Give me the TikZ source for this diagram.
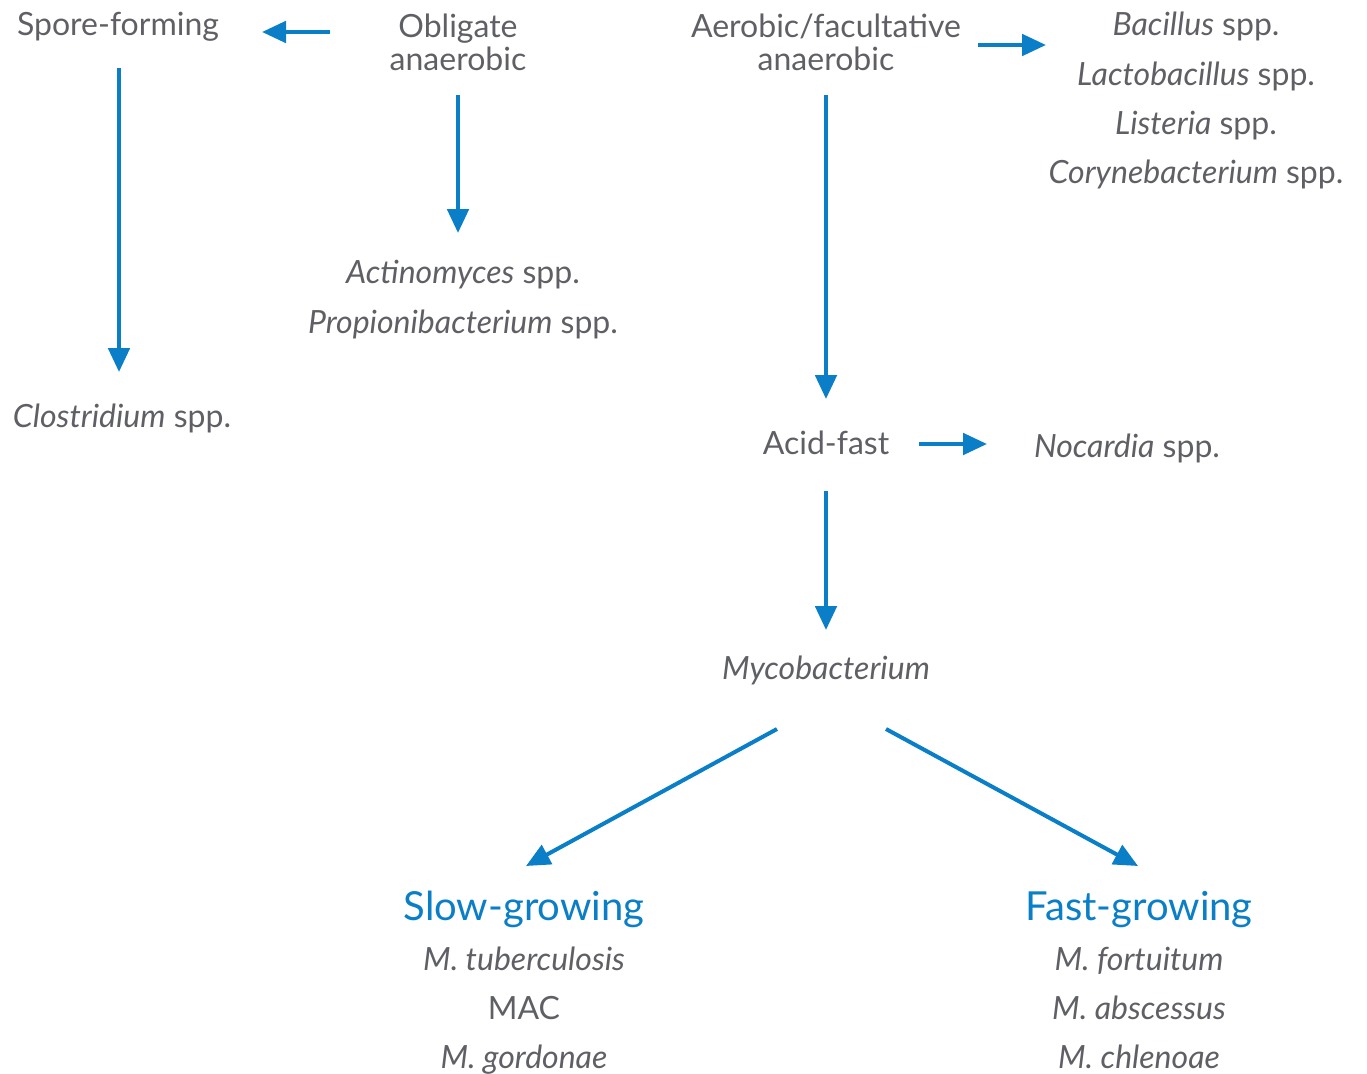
\documentclass[tikz,border=0pt]{standalone}
\usepackage{fontspec}
\setmainfont{Lato}
\usetikzlibrary{arrows.meta,calc}
\definecolor{txtgray}{HTML}{5F6065}
\definecolor{arrblue}{HTML}{0A7FC7}
\begin{document}
\begin{tikzpicture}[x=0.75pt,y=-0.75pt,
  lbl/.style={inner sep=0pt,anchor=base,text=txtgray,font=\fontsize{24}{24.75}\selectfont,align=center},
  two/.style={inner sep=0pt,text=txtgray,font=\fontsize{24}{24.75}\selectfont,align=center},
  head/.style={inner sep=0pt,anchor=base,text=arrblue,font=\fontsize{30}{30}\selectfont},
  conn/.style={draw=arrblue,line width=3pt,-{Triangle[length=18pt,width=16pt]}}]
\useasboundingbox (0,0) rectangle (1367,1074);
\node[lbl] (sf) at (118,36) {Spore-forming};
\node[two] (ob) at (458,42) {Obligate\\anaerobic};
\node[two] (ae) at (826,42) {Aerobic/facultative\\anaerobic};
\node[lbl] (ba) at (1196,36) {\textit{Bacillus} spp.};
\node[lbl] (la) at (1196,85) {\textit{Lactobacillus} spp.};
\node[lbl] (li) at (1196,134) {\textit{Listeria} spp.};
\node[lbl] (co) at (1196,183) {\textit{Corynebacterium} spp.};
\node[lbl] (ac) at (463,283) {\textit{Actinomyces} spp.};
\node[lbl] (pr) at (463,333) {\textit{Propionibacterium} spp.};
\node[lbl] (cl) at (122,427) {\textit{Clostridium} spp.};
\node[lbl] (af) at (826,454) {Acid-fast};
\node[lbl] (no) at (1127,457) {\textit{Nocardia} spp.};
\node[lbl] (my) at (826,679) {\textit{Mycobacterium}};
\node[head] (sl) at (524,920) {Slow-growing};
\node[lbl] (mt) at (524,970) {\textit{M. tuberculosis}};
\node[lbl] (mac) at (524,1019) {MAC};
\node[lbl] (mg) at (524,1068) {\textit{M. gordonae}};
\node[head] (fa) at (1139,920) {Fast-growing};
\node[lbl] (mf) at (1139,970) {\textit{M. fortuitum}};
\node[lbl] (mab) at (1139,1019) {\textit{M. abscessus}};
\node[lbl] (mch) at (1139,1068) {\textit{M. chlenoae}};
% connectors
\draw[conn] ($(ob)+(-128,-10)$) -- ($(sf.base)+(144,-4)$);
\draw[conn] ($(sf.base)+(1,32)$) -- ($(cl.base)+(-3,-55)$);
\draw[conn] ($(ob)+(0,53)$) -- ($(ac.base)+(-5,-50)$);
\draw[conn] ($(ae)+(152,3)$) -- ($(ba.base)+(-150,9)$);
\draw[conn] ($(ae)+(0,53)$) -- ($(af.base)+(0,-55)$);
\draw[conn] ($(af.base)+(93,-10)$) -- ($(no.base)+(-140,-13)$);
\draw[conn] ($(af.base)+(0,37)$) -- ($(my.base)+(0,-49)$);
\draw[conn] ($(my.base)+(-49,50)$) -- ($(sl.base)+(2,-54)$);
\draw[conn] ($(my.base)+(60,50)$) -- ($(fa.base)+(-1,-54)$);
\end{tikzpicture}
\end{document}
